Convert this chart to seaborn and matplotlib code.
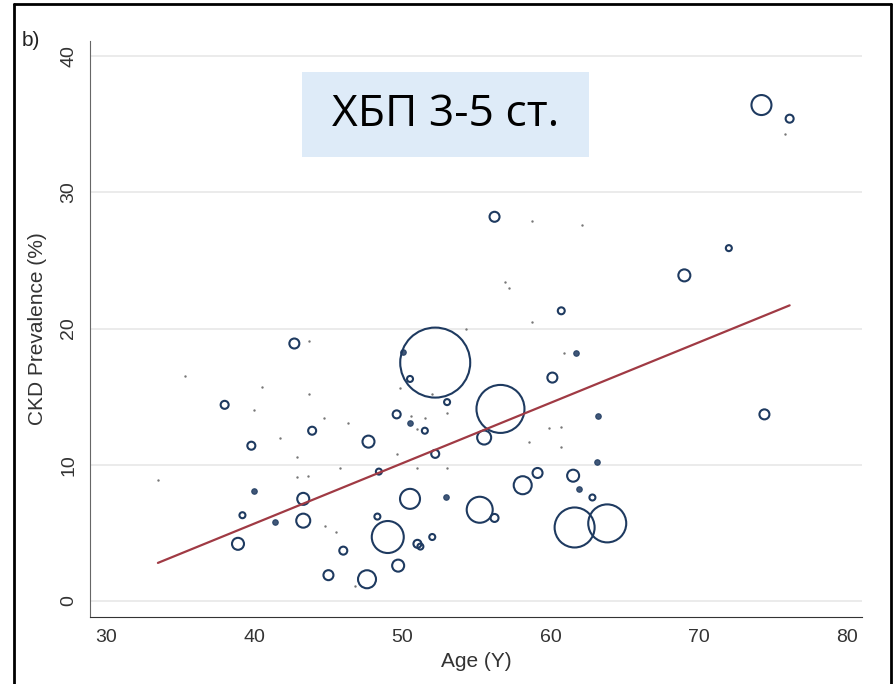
import numpy as np
import pandas as pd
import matplotlib
matplotlib.use("Agg")
import matplotlib.pyplot as plt
import seaborn as sns
from matplotlib.patches import Rectangle
from matplotlib.lines import Line2D

# ---- data ----
open_age = [74.2, 76.1, 56.2, 69.0, 72.0, 60.7, 52.2, 56.6, 60.1, 50.5, 53.0, 49.6, 51.5, 47.7,
            55.5, 52.2, 48.4, 59.1, 58.1, 61.5, 50.5, 55.2, 56.2, 48.3, 49.0, 51.0, 51.2, 52.0,
            46.0, 49.7, 47.6, 61.6, 63.8, 62.8, 74.4, 42.7, 38.0, 43.9, 39.8, 43.3, 39.2, 43.3,
            38.9, 45.0]
open_prev = [36.4, 35.4, 28.2, 23.9, 25.9, 21.3, 17.5, 14.1, 16.4, 16.3, 14.6, 13.7, 12.5, 11.7,
             12.0, 10.8, 9.5, 9.4, 8.5, 9.2, 7.5, 6.7, 6.1, 6.2, 4.7, 4.2, 4.0, 4.7,
             3.7, 2.6, 1.6, 5.4, 5.7, 7.6, 13.7, 18.9, 14.4, 12.5, 11.4, 7.5, 6.3, 5.9,
             4.2, 1.9]
open_weight = [100, 16, 25, 36, 9, 12, 1225, 576, 25, 9, 9, 16, 9, 36,
               49, 16, 9, 25, 81, 36, 100, 169, 16, 9, 256, 16, 9, 9,
               16, 36, 81, 400, 361, 9, 25, 25, 16, 16, 16, 36, 9, 49,
               36, 25]

filled_age = [61.7, 50.0, 50.5, 61.9, 52.9, 63.1, 63.2, 40.0, 41.4]
filled_prev = [18.2, 18.3, 13.1, 8.2, 7.6, 10.2, 13.6, 8.1, 5.8]

tiny_age = [75.8, 58.7, 62.1, 56.9, 57.2, 60.9, 43.7, 35.3, 40.5, 43.7, 40.0, 44.7, 41.7, 42.9,
            33.5, 42.9, 43.6, 45.8, 44.8, 45.5, 46.8, 58.7, 54.3, 49.8, 52.0, 53.0, 50.6, 51.5,
            51.0, 46.3, 49.6, 59.9, 60.7, 58.5, 60.7, 51.0, 53.0]
tiny_prev = [34.3, 27.9, 27.6, 23.4, 23.0, 18.2, 19.1, 16.5, 15.7, 15.2, 14.0, 13.4, 12.0, 10.6,
             8.9, 9.1, 9.2, 9.8, 5.5, 5.1, 1.1, 20.5, 20.0, 15.6, 15.2, 13.8, 13.6, 13.4,
             12.6, 13.1, 10.8, 12.7, 12.8, 11.7, 11.3, 9.8, 9.8]

fit_age = [33.5, 76.1]
fit_prev = [2.8, 21.7]

x_ticks = [30, 40, 50, 60, 70, 80]
y_ticks = [0, 10, 20, 30, 40]
box_text = "ХБП 3-5 ст."
panel_label = "b)"
x_label = "Age (Y)"
y_label = "CKD Prevalence (%)"

# ---- style ----
sns.set_style("white")
lab_font = ['Liberation Sans Narrow', 'Liberation Sans', 'DejaVu Sans']
plt.rcParams['font.family'] = lab_font

navy = "#1e3a60"
fig = plt.figure(figsize=(8.93, 6.84), dpi=100)
ax = fig.add_axes([90/893, 1-617/684, (862-90)/893, (617-41)/684])

df_open = pd.DataFrame({"age": open_age, "prev": open_prev, "w": open_weight})
k = (2/1.3889)**2
wmax = max(open_weight)
sns.scatterplot(data=df_open, x="age", y="prev", size="w", sizes=(0, k*wmax), size_norm=(0, wmax),
                facecolor="none", edgecolor=navy, linewidth=1.5, legend=False, ax=ax)

df_f = pd.DataFrame({"age": filled_age, "prev": filled_prev})
sns.scatterplot(data=df_f, x="age", y="prev", s=16, color=navy, edgecolor=navy,
                linewidth=0.8, alpha=0.85, legend=False, ax=ax)

df_t = pd.DataFrame({"age": tiny_age, "prev": tiny_prev})
sns.scatterplot(data=df_t, x="age", y="prev", s=3, color="#777777", linewidth=0,
                legend=False, ax=ax)

sns.lineplot(x=fit_age, y=fit_prev, color="#a03a44", linewidth=1.6, ax=ax)

ax.set_xlim(28.92, 80.98)
ax.set_ylim(-1.17, 41.1)
ax.set_xticks(x_ticks)
ax.set_yticks(y_ticks)
ax.set_yticklabels([str(v) for v in y_ticks], rotation=90, va="center")
ax.tick_params(axis="both", direction="out", length=6, width=1, color="#555555",
               labelsize=14, labelcolor="#333333", pad=3)
for v in y_ticks:
    ax.axhline(v, color="#e8e8e8", linewidth=1.2, zorder=0)
ax.spines["top"].set_visible(False)
ax.spines["right"].set_visible(False)
ax.spines["left"].set_color("#666666")
ax.spines["bottom"].set_color("#333333")
ax.set_xlabel(x_label, fontsize=15, color="#333333", labelpad=4)
ax.set_ylabel(y_label, fontsize=15, color="#333333", labelpad=10)

# label box
ax.add_patch(Rectangle((43.2, 32.6), 62.6-43.2, 38.8-32.6, facecolor="#deebf8",
                       edgecolor="none", zorder=1))
ax.text((43.2+62.6)/2, (32.6+38.8)/2, box_text, ha="center", va="center",
        fontsize=32, family=['Open Sans', 'Noto Sans', 'DejaVu Sans'], color="black", zorder=2)

fig.text(22/893, 1-40/684, panel_label, fontsize=15, ha="left", va="center", color="#222222")

# figure frame
for xs, ys in [([14/893, 14/893], [0, 1-4/684]), ([14/893, 891/893], [1-4/684, 1-4/684]),
               ([891/893, 891/893], [0, 1-4/684])]:
    fig.add_artist(Line2D(xs, ys, color="black", linewidth=2, transform=fig.transFigure))

fig.savefig("out.png", dpi=100)
